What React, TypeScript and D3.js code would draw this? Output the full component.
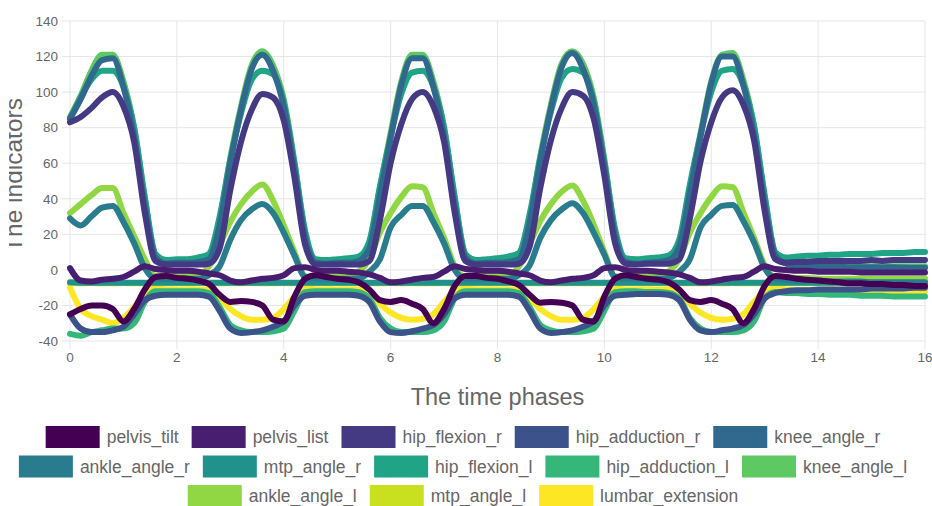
import React from "react";
import * as d3 from "d3";

const W = 932;
const H = 506;

// sample times: one reading every 0.2 time phase
const time = d3.range(81).map(i => +(i * 0.2).toFixed(1));
const xTicks = [0, 2, 4, 6, 8, 10, 12, 14, 16];
const yTicks = [-40, -20, 0, 20, 40, 60, 80, 100, 120, 140];

const seriesNames = [
  "pelvis_tilt", "pelvis_list", "hip_flexion_r", "hip_adduction_r", "knee_angle_r",
  "ankle_angle_r", "mtp_angle_r", "hip_flexion_l", "hip_adduction_l", "knee_angle_l",
  "ankle_angle_l", "mtp_angle_l", "lumbar_extension",
];

// values (cycle 1 | 2 | 3 | 4 | 5 | tail)
const pelvisTilt = [
  -25, -22, -20, -20, -22, -29, -22, -11, -4, -3.5, -4.5,
  -5, -6, -8, -14, -18, -17.5, -18, -20, -28, -29, -15, -5, -3, -4, -5,
  -5.5, -7, -11, -17, -18, -17, -19, -22, -30, -22, -9, -3.5, -3.5, -4.5,
  -5, -6.5, -8.5, -14, -18.5, -18, -18.5, -20, -28, -29, -15, -5, -3, -4, -5,
  -5.5, -7, -11, -17, -18, -17, -19, -22, -30, -22, -9, -3.5,
  -4, -5, -5.5, -6, -6.5, -7, -7.5, -7.5, -8, -8, -8.5, -8.5, -9, -9,
];
const pelvisList = [
  1, -6, -6.5, -5.5, -5, -4, -1, 2, 0.5, 0, -0.5,
  -0.5, -1, -2, -3, -6, -7, -6, -5, -4.5, -3, 1, 1.5, 0, -0.5, -0.5,
  -1, -1.5, -2.5, -4.5, -7, -6.5, -5.5, -4.5, -4, -1, 2, 0.5, 0, -0.5,
  -0.5, -1, -2, -3, -6, -7, -6, -5, -4.5, -3, 1, 1.5, 0, -0.5, -0.5,
  -1, -1.5, -2.5, -4.5, -7, -6.5, -5.5, -4.5, -4, -1, 2, 0.5,
  0, -0.5, -0.5, -1, -1, -1, -1, -1.5, -1.5, -1.5, -1.5, -1.5, -1.5, -1.5,
];
const hipFlexionR = [
  83, 86, 91, 97, 100, 92, 72, 32, 5, 3, 3,
  3, 3, 3.5, 12, 45, 72, 90, 99, 97, 84, 52, 14, 3, 3, 3,
  3, 3, 5, 28, 60, 82, 96, 100, 92, 72, 32, 5, 3, 3,
  3, 3, 3.5, 13, 46, 73, 91, 100, 98, 85, 53, 15, 3.5, 3, 3.5,
  3.5, 3.5, 6, 29, 61, 83, 97, 101, 93, 73, 33, 6,
  4, 4.5, 4.5, 5, 5, 5, 5, 5, 5.5, 5, 5.5, 5.5, 5.5, 5.5,
];
const hipAdductionR = [
  -25, -33, -35, -35, -34, -32, -25, -17, -14.5, -14, -14,
  -14, -14, -15, -23, -33, -35.5, -35, -34, -32, -29, -20, -14.5, -14, -14, -14,
  -14, -14.5, -18, -29, -35, -35.5, -34.5, -33, -31, -25, -16, -14, -14, -14,
  -14, -14, -15, -23, -33, -35.5, -35, -34, -32, -29, -20, -14.5, -14, -13.5, -13.5,
  -13.5, -14, -17, -28, -34, -35, -34, -33, -31, -25, -16, -13,
  -12, -11.5, -11.5, -11, -11, -11, -11, -11, -10.5, -10.5, -10.5, -10.5, -10, -10,
];
const kneeAngleR = [
  85, 96, 109, 118, 119, 103, 75, 36, 7, 3.5, 4,
  4, 4.5, 6, 25, 60, 90, 113, 121, 112, 92, 57, 18, 4, 3.5, 4,
  4, 5, 12, 42, 74, 104, 119, 119, 103, 75, 36, 7, 3.5, 4,
  4, 4.5, 6, 26, 61, 91, 114, 122, 113, 93, 58, 19, 4.5, 3.5, 4,
  4.5, 5.5, 13, 43, 75, 105, 120, 120, 104, 76, 37, 8,
  3.5, 2.5, 2, 2, 1.8, 1.8, 1.5, 1.5, 1.5, 1.4, 1.5, 1.3, 1.2, 1.2,
];
const ankleAngleR = [
  29, 25, 30, 35, 36, 27, 15, 1, -5, -5, -5,
  -5, -5, -3, 2, 17, 28, 34, 37, 32, 21, 8, -4, -5, -5, -5,
  -5, -5, -1, 6, 24, 31, 36, 36, 27, 15, 0, -5, -5, -5,
  -5, -5, -3, 2.5, 18, 28, 34, 37.5, 32, 21, 8.5, -4, -5, -5, -5,
  -5, -4.5, -1, 6, 24, 31, 36, 36.5, 27.5, 15.5, 1, -5,
  -5.5, -6, -6, -6, -6.5, -6.5, -6.5, -6.5, -7, -7, -7, -7, -7, -7,
];
const mtpAngleR = [
  -7, -7.2, -7.3, -7.2, -7.3, -7.2, -7.3, -7.2, -7.2, -7.3, -7.2,
  -7.3, -7.2, -7.2, -7.3, -7.2, -7.3, -7.3, -7.2, -7.3, -7.2, -7.2, -7.3, -7.2, -7.3, -7.2,
  -7.3, -7.2, -7.2, -7.3, -7.3, -7.2, -7.3, -7.2, -7.2, -7.3, -7.2, -7.3, -7.2, -7.2,
  -7.3, -7.2, -7.3, -7.2, -7.2, -7.3, -7.2, -7.3, -7.3, -7.2, -7.2, -7.3, -7.2, -7.3, -7.2,
  -7.3, -7.2, -7.2, -7.3, -7.2, -7.3, -7.2, -7.3, -7.2, -7.2, -7.3, -7.2,
  -7.3, -7.2, -7.3, -7.2, -7.2, -7.3, -7.2, -7.3, -7.2, -7.2, -7.3, -7.2, -7.3, -7.2,
];
const hipFlexionL = [
  85, 97, 107, 112, 112, 103, 80, 41, 9, 5.5, 6,
  6, 7, 9, 30, 62, 88, 107, 112, 110, 94, 60, 22, 6, 5.5, 6,
  6.5, 7.5, 16, 47, 75, 99, 111, 112, 103, 80, 41, 9, 5.5, 6,
  6.5, 7.5, 9.5, 31, 63, 89, 108, 113, 111, 95, 61, 23, 6.5, 6, 6.5,
  7, 8, 17, 48, 76, 100, 112, 113, 104, 81, 42, 10,
  7, 7.5, 8, 8, 8.5, 8.5, 9, 9, 9, 9.5, 9.5, 9.5, 10, 10,
];
const hipAdductionL = [
  -36, -37, -35, -34, -33, -33, -30, -18, -12, -12, -12,
  -12, -12, -13, -21, -31, -34, -35, -35, -34.5, -33, -23, -12.5, -12, -12, -12,
  -12, -12.5, -16, -27, -33, -35, -35, -35, -34, -29, -16, -12, -12, -12,
  -12, -12, -13, -21, -31, -34, -35, -35, -34.5, -33, -23, -12.5, -12, -12, -12.5,
  -12.5, -13, -16, -27, -33, -35, -35, -35, -34, -29, -16, -12.5,
  -13, -13, -13.5, -13.5, -14, -14, -14, -14.5, -14.5, -14.5, -15, -15, -15, -15,
];
const kneeAngleL = [
  86, 98, 112, 121, 121, 106, 80, 40, 8, 4, 4,
  4, 4.5, 7, 28, 63, 92, 115, 123, 115, 96, 61, 20, 5, 4, 4,
  4, 5, 15, 46, 77, 106, 121, 121, 106, 80, 40, 8, 4, 4,
  4, 4.5, 7, 29, 64, 93, 116, 123, 116, 97, 62, 21, 5, 4, 4,
  4, 5, 15, 46, 77, 106, 121, 122, 107, 81, 41, 9,
  4, 3, 2.5, 2.5, 2, 2, 2, 2, 2, 2, 2, 2, 2, 2,
];
const ankleAngleL = [
  32, 37, 42, 46, 46, 32, 19, 6, -3.5, -3.5, -3.5,
  -3.5, -3, 2, 14, 27, 37, 44, 48, 39, 25, 10, -3.5, -4, -3.5, -3.5,
  -3.5, -1, 6, 21, 32, 41, 47, 46.5, 32, 18, 2, -4, -3.5, -3.5,
  -3.5, -3, 2, 14.5, 27.5, 37, 44, 47.5, 39, 25.5, 10, -3.5, -4, -3.5, -3.5,
  -3.5, -1, 6, 21, 32, 41, 47, 46.5, 32.5, 18, 2.5, -4,
  -4, -4.5, -4.5, -5, -5, -5, -5, -5, -5, -5, -5, -5, -5, -5,
];
const mtpAngleL = [
  -7.4, -7.5, -7.4, -7.5, -7.5, -7.4, -7.5, -7.4, -7.5, -7.5, -7.4,
  -7.5, -7.4, -7.5, -7.5, -7.4, -7.5, -7.4, -7.5, -7.5, -7.4, -7.5, -7.4, -7.5, -7.5, -7.4,
  -7.5, -7.4, -7.5, -7.5, -7.4, -7.5, -7.4, -7.5, -7.5, -7.4, -7.5, -7.4, -7.5, -7.5,
  -7.4, -7.5, -7.4, -7.5, -7.5, -7.4, -7.5, -7.4, -7.5, -7.5, -7.4, -7.5, -7.4, -7.5, -7.5,
  -7.4, -7.5, -7.4, -7.5, -7.5, -7.4, -7.5, -7.4, -7.5, -7.5, -7.4, -7.5,
  -7.4, -7.5, -7.5, -7.4, -7.5, -7.4, -7.5, -7.5, -7.4, -7.5, -7.4, -7.5, -7.5, -7.4,
];
const lumbarExtension = [
  -10, -22, -26, -28, -30, -27, -21, -13, -10, -11, -11,
  -11, -11, -11.5, -16, -22, -26, -28, -28, -27, -22, -15, -10, -11, -11, -11,
  -11, -11, -13, -19, -24, -27, -28, -27.5, -25, -18, -12, -10.5, -11, -11,
  -11, -11, -11.5, -16, -22, -26, -28, -28, -27, -22, -15, -10, -11, -11, -11,
  -11, -11, -13, -19, -24, -27, -28, -27.5, -25, -18, -12, -10.5,
  -11, -11.5, -11.5, -12, -12, -12, -12, -12, -12, -12, -12, -12, -12, -12,
];

const seriesValues = [
  pelvisTilt, pelvisList, hipFlexionR, hipAdductionR, kneeAngleR,
  ankleAngleR, mtpAngleR, hipFlexionL, hipAdductionL, kneeAngleL,
  ankleAngleL, mtpAngleL, lumbarExtension,
];

const FONT = "'Liberation Sans', Arial, Helvetica, sans-serif";
const GRID = "#e6e6e6";
const TEXT = "#666";

const color = (i: number) => d3.interpolateViridis(i / (seriesNames.length - 1));

// measure legend label widths
let ctx: CanvasRenderingContext2D | null = null;
function textWidth(s: string, size: number) {
  if (!ctx) ctx = document.createElement("canvas").getContext("2d");
  if (!ctx) return s.length * size * 0.5;
  ctx.font = `${size}px ${FONT}`;
  return ctx.measureText(s).width;
}

export default function App() {
  const x = d3.scaleLinear().domain([0, 16]).range([70, 925]);
  const y = d3.scaleLinear().domain([-40, 140]).range([341, 21]);

  const line = d3.line<number>()
    .x((d, i) => x(time[i]))
    .y(d => y(d))
    .curve(d3.curveMonotoneX);

  // legend layout, chart.js style: wrap rows, center each row
  const boxW = 54, boxH = 22, gapText = 7, gapItem = 13, legendFont = 17.5;
  const maxRow = 910, legendCenter = 463, rowY0 = 437, rowStep = 29.5;
  const items = seriesNames.map((n, i) => ({ name: n, i, w: boxW + gapText + textWidth(n, legendFont) }));
  const rows: typeof items[] = [];
  let cur: typeof items = [];
  let curW = 0;
  items.forEach(it => {
    const add = cur.length ? gapItem + it.w : it.w;
    if (cur.length && curW + add > maxRow) {
      rows.push(cur);
      cur = [it];
      curW = it.w;
    } else {
      cur.push(it);
      curW += add;
    }
  });
  if (cur.length) rows.push(cur);

  const legend = rows.flatMap((row, r) => {
    const total = d3.sum(row, d => d.w) + gapItem * (row.length - 1);
    let xx = legendCenter - total / 2;
    return row.map(it => {
      const pos = { ...it, x: xx, y: rowY0 + r * rowStep };
      xx += it.w + gapItem;
      return pos;
    });
  });

  const order = d3.range(seriesNames.length).reverse(); // first dataset on top

  return (
    <svg width={W} height={H} style={{ position: "absolute", left: 0, top: 0, background: "#fff" }}
      fontFamily={FONT}>
      <defs>
        <clipPath id="ylab-clip">
          <rect x={9} y={0} width={60} height={H} />
        </clipPath>
      </defs>

      {/* grid */}
      <g>
        {yTicks.map(t => (
          <line key={"gy" + t} x1={x(0) - 8} x2={x(16)} y1={y(t)} y2={y(t)} stroke={GRID} strokeWidth={1} />
        ))}
        {xTicks.map(t => (
          <line key={"gx" + t} x1={x(t)} x2={x(t)} y1={y(140)} y2={y(-40) + 8} stroke={GRID} strokeWidth={1} />
        ))}
      </g>

      {/* tick labels */}
      <g fontSize={13.5} fill={TEXT}>
        {yTicks.map(t => (
          <text key={"ly" + t} x={x(0) - 12} y={y(t)} dy="0.35em" textAnchor="end">{t}</text>
        ))}
        {xTicks.map(t => (
          <text key={"lx" + t} x={x(t)} y={y(-40) + 21} textAnchor="middle">{t}</text>
        ))}
      </g>

      {/* series */}
      <g fill="none" strokeWidth={6} strokeLinejoin="round" strokeLinecap="round">
        {order.map(i => (
          <path key={seriesNames[i]} d={line(seriesValues[i]) || ""} stroke={color(i)} />
        ))}
      </g>

      {/* axis titles */}
      <text x={(x(0) + x(16)) / 2} y={405} textAnchor="middle" fontSize={23.5} fill={TEXT}>The time phases</text>
      <g clipPath="url(#ylab-clip)">
        <text transform={`translate(22,${(y(140) + y(-40)) / 2 - 6}) rotate(-90)`} textAnchor="middle"
          fontSize={24.5} fill={TEXT}>The indicators</text>
      </g>

      {/* legend */}
      <g fontSize={legendFont} fill={TEXT}>
        {legend.map(it => (
          <g key={it.name}>
            <rect x={it.x} y={it.y - boxH / 2} width={boxW} height={boxH} fill={color(it.i)} />
            <text x={it.x + boxW + gapText} y={it.y} dy="0.35em">{it.name}</text>
          </g>
        ))}
      </g>
    </svg>
  );
}
